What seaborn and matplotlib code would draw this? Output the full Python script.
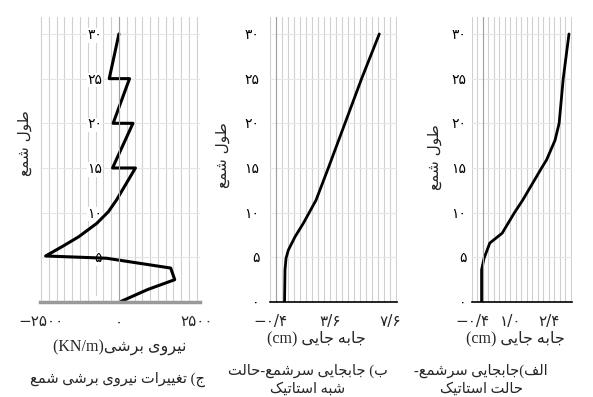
import matplotlib
matplotlib.use("Agg")
import matplotlib.pyplot as plt
from matplotlib.ticker import MultipleLocator
import seaborn as sns

# pile length (y) shared by all three panels
shear_depth = [30, 25, 25, 20, 20, 15, 15, 11.4, 10.1, 8.8, 7.3, 6.2, 5.15, 4.9, 3.8, 2.5, 1.4, 0]
shear_force = [0, -310, 340, -185, 450, -205, 530, -80, -340, -710, -1290, -1820, -2350, -400, 1660, 1790, 925, 25]

pseudo_depth = [0, 3.6, 4.9, 5.8, 7.3, 8.8, 11.4, 15, 20, 25, 30]
pseudo_disp = [0.57, 0.6, 0.67, 0.82, 1.27, 1.82, 2.67, 3.49, 4.6, 5.71, 6.89]

static_depth = [0, 3.6, 4.9, 6.6, 7.7, 10, 11.4, 15, 15.9, 18.1, 20, 25, 30]
static_disp = [-0.05, -0.05, 0.04, 0.25, 0.7, 1.15, 1.45, 2.14, 2.32, 2.63, 2.78, 2.93, 3.14]

y_ticks = [0, 5, 10, 15, 20, 25, 30]
y_labels = ["۰", "۵", "۱۰", "۱۵", "۲۰", "۲۵", "۳۰"]
shear_ticks = [-2500, 0, 2500]
shear_labels = ["−۲۵۰۰", "۰", "۲۵۰۰"]
pseudo_ticks = [-0.4, 3.6, 7.6]
pseudo_labels = ["−۰/۴", "۳/۶", "۷/۶"]
static_ticks = [-0.4, 1.0, 2.4]
static_labels = ["−۰/۴", "۱/۰", "۲/۴"]

# --- minimal Persian shaping (matplotlib has no bidi / joining support) ---
DUAL = {'ب': 0xFE8F, 'ت': 0xFE95, 'ث': 0xFE99, 'ج': 0xFE9D, 'ح': 0xFEA1, 'خ': 0xFEA5,
        'س': 0xFEB1, 'ش': 0xFEB5, 'ص': 0xFEB9, 'ض': 0xFEBD, 'ط': 0xFEC1, 'ظ': 0xFEC5,
        'ع': 0xFEC9, 'غ': 0xFECD, 'ف': 0xFED1, 'ق': 0xFED5, 'ل': 0xFEDD, 'م': 0xFEE1,
        'ن': 0xFEE5, 'ه': 0xFEE9, 'پ': 0xFB56, 'چ': 0xFB7A, 'ک': 0xFB8E, 'گ': 0xFB92,
        'ی': 0xFBFC}
RIGHT = {'ا': 0xFE8D, 'آ': 0xFE81, 'د': 0xFEA9, 'ذ': 0xFEAB, 'ر': 0xFEAD, 'ز': 0xFEAF,
         'ژ': 0xFB8A, 'و': 0xFEED}


def shape(s):
    out = []
    for i, ch in enumerate(s):
        base = DUAL.get(ch, RIGHT.get(ch))
        if base is None:
            out.append(ch)
            continue
        prev = s[i - 1] if i > 0 else ''
        nxt = s[i + 1] if i + 1 < len(s) else ''
        jp = prev in DUAL
        jn = ch in DUAL and (nxt in DUAL or nxt in RIGHT)
        off = (3 if jn else 1) if jp else (2 if jn else 0)
        out.append(chr(base + off))
    return ''.join(out)


def rtl(s):
    return shape(s)[::-1].translate(str.maketrans('()', ')('))


W, H = 593, 397
sns.set_style("white")
plt.rcParams['font.family'] = ['Liberation Serif', 'DejaVu Sans']
fig = plt.figure(figsize=(W / 100, H / 100), dpi=100)


def px_axes(x0, x1, y_top=17, y_bot=302):
    return fig.add_axes([x0 / W, 1 - y_bot / H, (x1 - x0) / W, (y_bot - y_top) / H])


def style(ax, xlim, xticks, xlabels, xminor, bottom_gray=False):
    ax.set_xlim(*xlim)
    ax.set_ylim(0, 31.9)
    ax.set_xticks(xticks)
    ax.set_xticklabels(xlabels, family=['DejaVu Sans'], fontsize=11)
    ax.xaxis.set_minor_locator(MultipleLocator(xminor))
    ax.set_yticks(y_ticks)
    ax.set_yticklabels(y_labels, family=['DejaVu Sans'], fontsize=11.5)
    ax.yaxis.set_minor_locator(MultipleLocator(1))
    ax.spines['left'].set_position(('data', 0))
    ax.spines['left'].set_color('#a0a0a0')
    ax.spines['left'].set_linewidth(0.8)
    for s in ('top', 'right'):
        ax.spines[s].set_visible(False)
    ax.grid(True, axis='x', which='both', color='#d0d0d0', lw=0.8)
    ax.grid(True, axis='y', which='major', color='#e6e6e6', lw=0.8)
    ax.set_axisbelow(True)
    ax.tick_params(axis='y', which='both', colors='#a0a0a0', direction='inout', pad=9)
    ax.tick_params(axis='y', which='major', length=6, labelcolor='black')
    ax.tick_params(axis='y', which='minor', length=5)
    if bottom_gray:
        ax.spines['bottom'].set_color('#999999')
        ax.spines['bottom'].set_linewidth(2.5)
        ax.tick_params(axis='x', which='both', length=0, pad=9)
    else:
        ax.spines['bottom'].set_color('black')
        ax.spines['bottom'].set_linewidth(1.2)
        ax.tick_params(axis='x', which='major', direction='inout', length=9, width=1.1, pad=4)
        ax.tick_params(axis='x', which='minor', direction='in', length=5, width=1.1)
    ax.set_xlabel('')
    ax.set_ylabel('')


# (ج) shear force
ax1 = px_axes(40, 200)
sns.lineplot(x=shear_force, y=shear_depth, sort=False, estimator=None, color='black', lw=2.2, ax=ax1)
style(ax1, (-2530, 2600), shear_ticks, shear_labels, 250, bottom_gray=True)
for lbl in ax1.get_yticklabels():
    lbl.set_bbox(dict(fc='white', ec='none', pad=0.5))

# (ب) pseudo-static pile head displacement
ax2 = px_axes(270, 397)
sns.lineplot(x=pseudo_disp, y=pseudo_depth, sort=False, estimator=None, color='black', lw=2.0, ax=ax2)
style(ax2, (-0.4, 8.07), pseudo_ticks, pseudo_labels, 0.4)

# (الف) static pile head displacement
ax3 = px_axes(472, 572)
sns.lineplot(x=static_disp, y=static_depth, sort=False, estimator=None, color='black', lw=2.0, ax=ax3)
style(ax3, (-0.4, 3.25), static_ticks, static_labels, 0.2)


def ftext(x, y, s, **kw):
    fig.text(x / W, 1 - y / H, s, ha='center', va='center', **kw)


ylab = rtl("طول شمع")
ftext(25, 143, ylab, rotation=90, fontsize=11, family=['DejaVu Sans'])
ftext(223, 155, ylab, rotation=90, fontsize=11, family=['DejaVu Sans'])
ftext(434, 157, ylab, rotation=90, fontsize=11, family=['DejaVu Sans'])

ftext(120, 348, "(KN/m)" + rtl("نیروی برشی"), fontsize=11.5)
ftext(316, 338, "(cm) " + rtl("جابه جایی"), fontsize=11.5)
ftext(515, 338, "(cm) " + rtl("جابه جایی"), fontsize=11.5)

ftext(118, 379, rtl("ج) تغییرات نیروی برشی شمع"), fontsize=10.5)
ftext(308, 371, rtl("ب) جابجایی سرشمع-حالت"), fontsize=10.5)
ftext(308, 389, rtl("شبه استاتیک"), fontsize=10.5)
ftext(481, 371, rtl("الف)جابجایی سرشمع-"), fontsize=10.5)
ftext(481, 389, rtl("حالت استاتیک"), fontsize=10.5)

fig.savefig("out.png", dpi=100)
